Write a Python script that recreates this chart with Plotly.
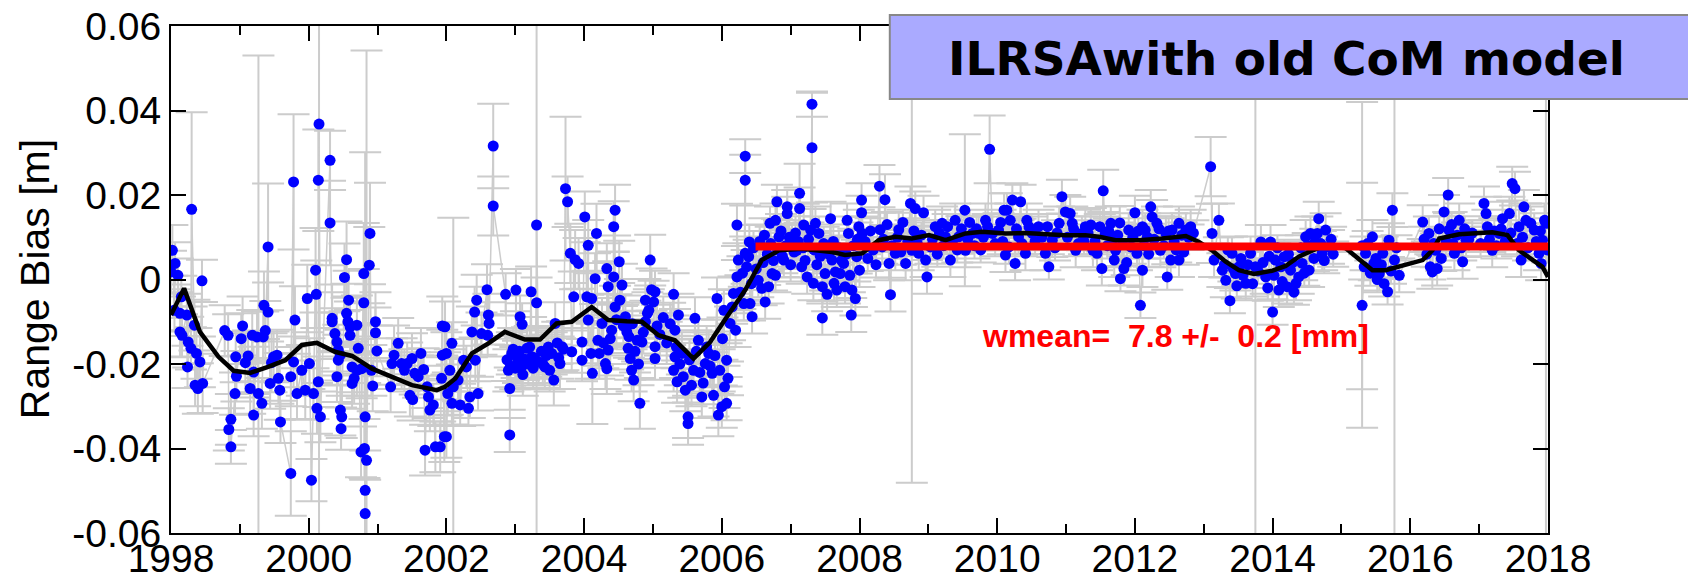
import plotly.graph_objects as go
import numpy as np

# (year, range bias [mm], sigma [mm])
seg_1998_2002 = [
(1998.02,6.9,6),(1998.06,3.8,5),(1998.00,1.8,5),(1998.10,1.0,4),(1998.15,-4.1,5),(1998.05,-7.3,5),(1998.13,-8.0,4),(1998.23,-8.4,5),(1998.13,-12.4,6),(1998.16,-13.2,5),(1998.25,-14.8,6),(1998.29,-16.3,5),(1998.37,-17.5,6),(1998.42,-19.5,6),(1998.24,-20.7,5),(1998.35,-25.0,5),(1998.39,-25.8,6),(1998.46,-24.6,7),(1998.45,-0.3,5),(1998.30,16.6,23),(1998.34,-10.8,6),
(1998.78,-12.1,6),(1998.83,-13.2,5),(1999.04,-11.0,7),(1999.02,-14.0,6),(1999.18,-13.2,6),(1999.25,-13.6,6),(1999.37,-12.1,7),(1999.34,-13.6,6),(1998.94,-18.3,6),(1999.08,-19.7,7),(1999.12,-18.1,6),(1999.20,-21.9,6),(1998.95,-22.9,6),(1998.93,-27.0,5),(1999.15,-25.8,6),(1999.27,-27.0,80),(1999.32,-29.3,6),(1999.20,-32.1,5),(1998.87,-33.1,6),(1998.84,-35.5,5),(1998.87,-39.6,4),(1999.41,7.7,15),(1999.35,-6.1,8),(1999.41,-7.7,7),(1999.49,-18.3,6),(1999.54,-17.9,6),(1999.46,-19.7,7),(1999.44,-24.6,6),(1999.56,-23.4,6),(1999.58,-26.2,7),(1999.59,-33.7,5),(1999.74,-45.9,10),(1999.78,23.1,16),(1999.80,-9.6,8),(1999.78,-19.5,6),(1999.74,-23.0,7),(1999.83,-27.0,6),(1999.90,-21.5,6),(1999.95,-26.2,7),(2000.01,-19.9,6),(2000.04,-47.5,5),(2000.07,-27.0,6),(2000.14,-24.2,6),(2000.12,-30.5,6),(2000.17,-32.5,6),(2000.10,2.2,10),(2000.11,-3.5,8),(1999.98,-4.5,8),(2000.14,23.5,12),(2000.15,36.8,100),(2000.31,28.2,7),(2000.31,13.4,10),(2000.34,-9.2,8),(2000.34,-10.0,7),(2000.38,-12.8,6),(2000.41,-14.8,7),(2000.43,-16.7,6),(2000.43,-19.1,6),(2000.46,-17.9,6),(2000.41,-23.0,6),(2000.46,-30.9,6),(2000.48,-32.5,5),(2000.47,-35.3,5),(2000.52,0.5,8),(2000.55,4.7,9),(2000.58,-4.9,7),(2000.55,-8.0,7),(2000.57,-10.0,6),(2000.60,-11.2,6),(2000.70,-10.8,7),(2000.60,-13.2,6),(2000.72,-16.3,6),(2000.63,-20.7,6),(2000.70,-21.5,6),(2000.66,-23.4,6),(2000.63,-24.6,6),(2000.77,-21.1,7),(2000.82,-32.5,8),(2000.76,-40.8,6),(2000.81,-40.0,7),(2000.84,-42.8,97),(2000.82,-49.9,80),(2000.82,-55.4,8),(2000.80,1.4,12),(2000.88,3.4,9),(2000.89,10.9,12),(2000.80,-5.5,8),(2000.97,-10.0,7),(2000.97,-12.6,6),(2000.99,-16.9,6),(2000.91,-21.5,6),(2000.93,-25.2,6),(2001.21,-19.9,6),(2001.19,-25.4,6),(2001.24,-17.9,7),(2001.30,-15.1,6),(2001.35,-19.9,6),(2001.39,-21.5,5),(2001.43,-19.9,5),(2001.50,-18.7,6),(2001.47,-27.4,5),(2001.51,-28.4,5),(2001.54,-22.2,5),(2001.59,-23.0,5),(2001.63,-17.5,6),(2001.67,-21.3,5),(2001.69,-40.4,6),(2001.72,-25.4,5),(2001.74,-27.8,5),(2001.76,-30.9,5),(2001.81,-29.7,5),(2001.84,-39.6,6),(2001.91,-39.6,6),(2001.94,-11.0,7),(2001.94,-17.9,6),(2001.93,-23.4,5),(2001.97,-37.2,6),
]

seg_2002_2006 = [
(2001.98,-11.2,6),(2002.08,-15.1,5),(2002.00,-17.5,5),(2002.05,-21.5,5),(2002.17,-23.8,5),(2002.10,-25.4,40),(2002.02,-27.0,5),(2002.08,-29.3,5),(2002.20,-29.7,5),(2002.32,-30.5,4),(2002.34,-27.8,5),(2002.46,-27.0,4),(2002.00,-37.2,5),(2002.25,-19.1,5),(2002.29,-20.7,5),(2002.42,-19.1,5),(2002.37,-12.4,6),(2002.41,-7.7,6),(2002.44,-4.9,6),(2002.51,-12.8,5),(2002.60,-13.2,5),(2002.61,-8.4,5),(2002.62,-10.4,5),(2002.59,-2.4,6),(2002.68,31.6,10),(2002.68,17.4,7),(2002.86,-3.5,5),(2003.01,-2.5,5),(2003.07,-8.8,5),(2003.10,-10.6,5),(2002.92,-25.8,5),(2002.92,-36.8,4),(2002.90,-21.5,5),(2002.95,-17.5,5),(2003.02,-18.3,5),(2003.09,-20.7,5),(2003.17,-16.3,5),(2003.23,-2.9,6),(2003.31,-5.5,6),(2003.31,12.9,80),(2003.24,-18.3,5),(2003.34,-19.5,5),(2003.43,-20.7,5),(2003.56,-23.8,6),(2003.53,-17.5,5),(2003.58,-10.4,5),(2003.65,-19.9,6),(2003.68,-15.9,6),(2003.73,21.5,17),(2003.76,18.4,6),(2003.80,6.2,7),(2003.87,4.7,7),(2003.92,3.8,6),(2003.85,-4.1,6),(2003.82,-17.1,5),(2003.97,-14.8,5),(2003.97,-19.1,5),(2004.01,14.8,6),(2004.04,-4.1,6),(2004.06,8.1,6),(2004.06,-9.6,6),(2004.11,-4.5,6),(2004.18,10.9,7),(2004.16,0.2,6),(2004.10,-17.5,6),(2004.12,-22.2,12),(2004.20,-14.4,6),(2004.26,-10.4,6),(2004.31,-19.9,6),(2004.33,-21.1,6),(2004.35,-16.7,6),(2004.38,-14.0,6),(2004.33,2.6,6),(2004.35,-1.7,6),(2004.43,0.6,6),(2004.45,16.4,6),(2004.43,12.5,6),(2004.51,4.2,5),(2004.55,-1.3,5),(2004.52,-4.9,5),(2004.45,-6.5,5),(2004.60,-8.8,5),(2004.62,-12.4,5),(2004.64,-16.3,5),(2004.67,-18.7,5),(2004.69,-21.5,5),(2004.72,-23.8,5),(2004.81,-29.3,6),(2004.77,-14.4,5),(2004.84,-14.8,5),(2004.89,-10.0,5),(2004.96,4.6,6),(2004.98,-2.4,5),(2005.01,-5.3,5),(2004.89,-4.9,5),(2005.03,-2.9,5),(2004.94,-7.3,5),(2005.03,-15.9,5),(2005.03,-18.7,5),(2005.30,-3.5,5),(2005.37,-8.4,5),(2005.32,-12.0,5),(2005.32,-18.3,5),(2005.30,-21.5,5),(2005.35,-24.2,5),(2005.47,-26.2,5),(2005.51,-32.5,5),(2005.51,-34.1,5),(2005.59,-21.5,5),(2005.61,-9.2,5),(2005.66,-14.4,5),(2005.71,-27.8,5),(2005.76,-19.9,5),(2005.81,-17.5,5),(2005.86,-22.2,5),(2005.88,-27.4,5),(2005.93,-4.5,5),(2005.95,-32.1,5),(2006.00,-30.1,5),(2006.04,-25.4,5),(2006.03,-7.3,5),
(2002.88,-19.0,5),(2002.93,-20.5,5),(2002.97,-16.5,5),(2003.00,-21.0,5),(2003.04,-19.5,5),(2003.06,-17.0,5),(2003.11,-22.5,5),(2003.13,-18.8,5),(2003.19,-20.0,5),(2003.21,-16.0,5),(2003.26,-21.0,5),(2003.28,-18.5,5),(2003.38,-17.0,5),(2003.40,-20.0,5),(2003.45,-18.0,5),(2003.48,-16.0,5),(2003.50,-21.5,5),(2003.61,-15.0,5),(2003.63,-18.5,5),(2003.70,-16.5,5),(2004.22,-17.5,6),(2004.28,-15.0,6),(2004.40,-12.0,6),(2004.47,-9.5,6),(2004.57,-11.0,5),(2004.65,-13.5,5),(2004.70,-10.5,5),(2004.74,-17.0,5),(2004.79,-20.0,5),(2004.86,-12.5,5),(2004.92,-8.0,5),(2005.06,-11.0,5),(2005.10,-13.0,5),(2005.15,-9.0,5),(2005.20,-15.0,5),(2005.25,-10.5,5),(2005.34,-16.0,5),(2005.39,-20.0,5),(2005.42,-17.5,5),(2005.44,-23.0,5),(2005.53,-19.0,5),(2005.56,-25.0,5),(2005.63,-17.0,5),(2005.68,-22.0,5),(2005.73,-24.5,5),(2005.78,-16.0,5),(2005.83,-20.5,5),(2005.90,-18.0,5),(2005.97,-21.5,5),(2006.01,-14.0,5),
]

seg_2006_2010 = [
(2006.07,-29.3,4),(2006.09,-23.4,4),(2006.07,-19.1,4),(2006.12,-10.4,4),(2006.20,-12.0,4),(2006.15,-6.5,4),(2006.17,-3.3,4),(2006.22,0.6,4),(2006.24,4.6,4),(2006.22,12.9,5),(2006.34,23.5,6),(2006.34,29.2,4),(2006.32,-5.7,4),(2006.41,-5.7,4),(2006.44,-8.8,4),(2006.39,5.4,4),(2006.34,6.2,4),(2006.40,8.9,4),(2006.53,-0.2,4),(2006.58,-2.1,4),(2006.63,-5.3,4),(2006.68,-1.7,4),(2006.73,1.4,4),(2006.78,1.0,4),(2006.70,13.3,4),(2006.80,18.4,4),(2006.78,14.0,4),(2006.83,10.1,4),(2006.90,4.6,4),(2006.95,17.2,4),(2006.95,15.6,4),(2007.02,8.9,4),(2007.09,6.9,4),(2007.13,20.4,7),(2007.13,16.8,5),(2007.19,12.9,5),(2007.16,3.0,4),(2007.24,0.6,4),(2007.31,41.5,3),(2007.31,31.2,13),(2007.29,11.7,5),(2007.36,13.3,4),(2007.41,10.9,4),(2007.33,-0.9,4),(2007.46,-1.7,4),(2007.50,1.4,4),(2007.58,14.4,4),(2007.60,4.6,4),(2007.65,1.8,4),(2007.63,-0.9,4),(2007.46,-9.1,4),(2007.72,1.4,4),(2007.77,3.8,4),(2007.79,-1.7,4),(2007.82,14.0,4),(2007.84,10.9,4),(2007.89,-2.5,4),(2007.94,-4.5,4),(2007.88,-8.4,4),(2007.96,5.4,4),(2007.99,12.5,4),(2008.03,18.8,4),(2008.03,15.8,4),(2008.04,10.9,4),(2008.00,2.2,4),(2008.29,22.1,5),(2008.37,18.9,6),(2008.30,11.8,4),(2008.33,7.7,4),(2008.43,3.8,4),(2008.45,-3.6,4),(2008.57,11.8,4),(2008.52,6.2,4),(2008.67,3.8,4),(2008.74,18.0,4),(2008.76,6.9,55),(2008.81,16.8,4),(2008.93,15.8,4),(2008.86,6.2,4),(2008.96,4.6,4),(2008.98,0.6,4),(2009.03,7.7,4),(2009.10,12.5,4),(2009.20,13.3,4),(2009.25,10.1,4),(2009.32,4.6,4),(2009.39,14.0,4),(2009.44,10.1,4),(2009.53,16.4,18),(2009.54,6.9,4),(2009.64,10.9,4),(2009.73,10.9,4),(2009.83,14.0,4),(2009.89,30.8,8),(2009.93,10.9,4),(2010.02,11.7,4),(2010.10,16.4,4),(2010.12,5.8,4),
(2006.27,-3.0,4),(2006.30,1.5,4),(2006.36,3.0,4),(2006.43,-1.0,4),(2006.46,7.5,4),(2006.50,2.5,4),(2006.55,9.0,4),(2006.60,4.0,4),(2006.62,10.5,4),(2006.66,6.0,4),(2006.71,8.5,4),(2006.75,4.5,4),(2006.81,7.0,4),(2006.86,11.5,4),(2006.88,5.5,4),(2006.93,8.0,4),(2006.98,10.0,4),(2007.00,3.5,4),(2007.05,6.5,4),(2007.07,11.0,4),(2007.11,9.0,4),(2007.18,7.5,4),(2007.21,4.5,4),(2007.26,9.5,4),(2007.34,7.0,4),(2007.38,3.5,4),(2007.43,5.5,4),(2007.48,8.5,4),(2007.53,-3.5,4),(2007.55,6.0,4),(2007.62,9.0,4),(2007.67,-2.5,4),(2007.70,7.5,4),(2007.74,4.5,4),(2007.81,6.0,4),(2007.86,1.0,4),(2007.91,8.0,4),(2007.97,9.5,4),
(2008.08,9.0,3),(2008.12,5.0,3),(2008.16,11.5,3),(2008.20,7.0,3),(2008.24,3.5,3),(2008.35,9.5,3),(2008.40,13.0,3),(2008.47,8.0,3),(2008.55,10.0,3),(2008.60,6.5,3),(2008.63,13.5,3),(2008.70,9.0,3),(2008.79,11.5,3),(2008.84,8.5,3),(2008.90,10.5,3),(2009.06,9.5,3),(2009.13,6.0,3),(2009.16,11.0,3),(2009.22,8.0,3),(2009.28,12.5,3),(2009.35,9.0,3),(2009.42,7.0,3),(2009.48,12.0,3),(2009.57,9.5,3),(2009.60,13.5,3),(2009.67,8.0,3),(2009.70,12.0,3),(2009.76,7.0,3),(2009.80,10.0,3),(2009.86,12.5,3),(2009.97,8.5,3),(2010.05,13.5,3),(2010.08,9.0,3),
]

seg_2010_2014 = [
(2010.14,16.4,4),(2010.22,18.8,4),(2010.34,18.4,4),(2010.19,14.0,4),(2010.17,7.7,4),(2010.26,3.8,4),(2010.31,10.1,4),(2010.41,6.2,4),(2010.43,14.0,4),(2010.51,10.9,4),(2010.60,12.5,4),(2010.70,6.2,4),(2010.75,3.0,3),(2010.80,9.3,4),(2010.90,13.3,4),(2010.94,19.6,4),(2010.99,16.0,4),(2011.06,15.6,4),(2011.09,13.3,4),(2011.14,6.9,4),(2011.23,10.9,4),(2011.28,12.5,4),(2011.36,12.9,4),(2011.39,6.9,4),(2011.45,6.2,4),(2011.52,2.6,4),(2011.54,21.0,5),(2011.57,10.9,4),(2011.65,13.3,4),(2011.70,4.6,4),(2011.72,6.9,4),(2011.78,13.4,4),(2011.79,0.2,3),(2011.84,2.6,4),(2011.91,11.7,4),(2011.94,7.7,4),(2012.00,15.8,4),(2012.03,6.2,4),(2012.08,-6.1,3),(2012.11,2.2,4),(2012.11,12.5,4),(2012.15,11.7,4),(2012.23,17.2,4),(2012.25,14.8,4),(2012.32,13.3,4),(2012.37,6.9,4),(2012.45,10.9,4),(2012.47,0.6,3),(2012.52,4.6,4),(2012.54,11.7,4),(2012.64,13.3,4),(2012.64,4.6,4),(2012.74,11.7,4),(2012.81,12.5,4),(2013.10,26.7,7),(2013.12,10.9,7),(2013.22,14.0,4),(2013.15,4.6,4),(2013.27,2.2,4),(2013.32,-0.2,4),(2013.38,-5.0,3),(2013.41,6.2,4),(2013.46,1.4,4),(2013.51,3.0,4),(2013.61,-0.9,4),(2013.68,6.2,4),(2013.75,3.0,70),(2013.83,8.9,4),(2013.90,0.6,4),(2013.97,8.9,4),(2014.00,-7.7,3),(2014.04,4.6,4),(2014.09,-2.5,4),(2014.17,5.4,4),
(2010.28,12.0,3),(2010.36,8.5,3),(2010.46,12.5,3),(2010.55,9.0,3),(2010.65,10.0,3),(2010.73,12.5,3),(2010.84,7.5,3),(2010.87,11.0,3),(2011.02,10.0,3),(2011.11,12.0,3),(2011.18,8.5,3),(2011.26,9.0,3),(2011.32,11.0,3),(2011.42,9.0,3),(2011.49,12.5,3),(2011.60,8.0,3),(2011.62,11.5,3),(2011.68,9.5,3),(2011.75,10.5,3),(2011.82,8.5,3),(2011.88,4.0,3),(2011.97,10.0,3),(2012.05,11.5,3),(2012.13,8.0,3),(2012.18,10.0,3),(2012.20,6.0,3),(2012.28,9.5,3),(2012.35,12.0,3),(2012.42,8.0,3),(2012.49,11.5,3),(2012.57,9.0,3),(2012.60,7.0,3),(2012.68,10.5,3),(2012.71,6.5,3),(2012.78,10.0,3),(2012.85,11.0,3),
(2013.30,3.5,3),(2013.35,7.0,3),(2013.43,2.5,3),(2013.48,-1.5,3),(2013.54,5.0,3),(2013.57,1.0,3),(2013.64,3.5,3),(2013.71,-1.0,3),(2013.79,2.0,3),(2013.86,4.0,3),(2013.93,-2.0,3),(2013.95,5.5,3),(2014.02,1.0,3),(2014.07,7.5,3),(2014.12,3.0,3),(2014.14,-0.5,3),
]

seg_2014_2018 = [
(2014.21,-1.7,4),(2014.26,2.2,4),(2014.34,-0.9,4),(2014.38,0.6,4),(2014.43,3.8,4),(2014.53,2.2,4),(2014.48,10.1,4),(2014.55,10.9,4),(2014.67,14.4,4),(2014.65,10.9,4),(2014.72,6.2,4),(2014.77,11.7,4),(2014.82,7.7,4),(2015.30,8.0,34),(2015.30,-6.1,29),(2015.35,6.2,4),(2015.45,10.1,4),(2015.47,3.8,4),(2015.55,1.4,4),(2015.60,6.2,4),(2015.67,-2.9,3),(2015.69,9.3,4),(2015.74,16.4,4),(2015.77,4.6,70),(2015.84,1.0,4),(2016.18,13.6,4),(2016.27,10.9,4),(2016.32,1.8,4),(2016.39,2.6,4),(2016.37,6.9,4),(2016.49,16.0,4),(2016.55,20.0,4),(2016.56,11.7,4),(2016.64,6.2,4),(2016.71,14.0,4),(2016.76,4.2,4),(2016.81,9.3,4),(2017.07,18.0,4),(2017.10,15.6,4),(2017.12,12.5,4),(2017.19,6.9,4),(2017.29,10.9,4),(2017.34,14.4,4),(2017.44,15.6,4),(2017.48,22.7,4),(2017.52,21.5,4),(2017.58,12.5,4),(2017.61,4.6,4),(2017.65,17.2,4),(2017.68,14.0,4),(2017.75,13.3,4),(2017.80,11.7,4),(2017.87,6.2,4),(2017.90,3.8,4),(2017.95,14.0,4),(2017.97,13.3,80),(2017.92,9.3,4),
(2014.23,6.0,3),(2014.29,4.0,3),(2014.31,-3.0,3),(2014.41,7.5,3),(2014.46,1.5,3),(2014.51,8.0,3),(2014.60,5.0,3),(2014.62,9.0,3),(2014.70,8.5,3),(2014.75,4.5,3),(2014.85,9.5,3),(2014.88,6.0,3),
(2015.33,3.0,3),(2015.38,8.5,3),(2015.42,1.5,3),(2015.50,5.0,3),(2015.52,0.0,3),(2015.58,3.5,3),(2015.62,-1.0,3),(2015.72,2.0,3),(2015.80,7.5,3),(2016.20,9.5,3),(2016.24,6.0,3),(2016.29,3.0,3),(2016.34,8.5,3),(2016.42,12.0,3),(2016.45,5.0,3),(2016.52,9.0,3),(2016.60,13.0,3),(2016.62,8.5,3),(2016.68,10.5,3),(2016.74,7.5,3),(2016.79,12.0,3),(2016.85,9.5,3),(2016.90,11.0,3),(2017.02,8.5,3),(2017.15,9.5,3),(2017.22,11.5,3),(2017.25,8.0,3),(2017.32,12.0,3),(2017.38,9.0,3),(2017.46,11.0,3),(2017.55,8.5,3),(2017.63,10.0,3),(2017.71,7.5,3),(2017.83,9.0,3),(2017.89,11.5,3),(2017.99,7.0,3),
]

# running mean (black curve)
smooth_years = [1998.0,1998.19,1998.42,1998.69,1998.91,1999.15,1999.41,1999.66,1999.90,2000.12,2000.38,2000.63,2000.92,2001.21,2001.50,2001.86,2001.98,2002.13,2002.37,2002.61,2002.85,2003.14,2003.36,2003.60,2003.82,2004.11,2004.35,2004.62,2004.84,2005.08,2005.32,2005.59,2005.83,2006.05,2006.34,2006.58,2006.83,2007.16,2007.41,2007.60,2007.79,2008.04,2008.28,2008.52,2008.76,2009.01,2009.25,2009.54,2009.78,2010.12,2010.41,2010.70,2010.99,2011.28,2011.48,2011.72,2012.06,2012.40,2012.74,2012.93,2013.12,2013.32,2013.51,2013.73,2014.00,2014.19,2014.38,2014.58,2014.77,2015.01,2015.26,2015.45,2015.64,2015.89,2016.18,2016.32,2016.42,2016.71,2017.00,2017.19,2017.41,2017.58,2017.78,2017.92,2018.0]
smooth_mm = [-8.4,-2.1,-12.4,-18.3,-21.6,-22.1,-20.7,-19.1,-15.5,-15.0,-17.1,-18.1,-21.1,-23.0,-25.0,-26.2,-25.4,-23.4,-17.5,-15.1,-12.4,-14.2,-14.2,-10.4,-10.0,-6.5,-9.6,-9.9,-10.0,-13.2,-14.4,-18.7,-14.8,-9.4,-2.5,4.6,6.9,7.3,6.9,6.5,5.8,6.2,9.3,10.1,9.7,10.5,9.3,10.9,11.3,10.9,11.0,10.7,10.5,10.5,10.1,9.3,9.3,9.7,10.3,8.9,6.9,4.2,2.2,1.3,2.1,3.2,5.4,6.9,8.1,8.1,4.6,2.2,2.2,3.2,4.6,6.9,9.7,10.7,10.9,11.2,10.5,6.9,4.6,3.0,0.6]

# weighted mean (red line)
wmean_mm = 7.8
wmean_err_mm = 0.2
wmean_span = [2006.49, 2018.0]

title_text = "ILRSAwith old CoM model"
y_label = "Range Bias [m]"
x_ticks = [1998, 2000, 2002, 2004, 2006, 2008, 2010, 2012, 2014, 2016, 2018]
y_ticks = [-0.06, -0.04, -0.02, 0, 0.02, 0.04, 0.06]
y_ticktext = ["-0.06", "-0.04", "-0.02", "0", "0.02", "0.04", "0.06"]

pts = np.array(seg_1998_2002 + seg_2002_2006 + seg_2006_2010 + seg_2010_2014 + seg_2014_2018)
order = np.argsort(pts[:, 0], kind="stable")
pts = pts[order]
t = pts[:, 0]
bias = pts[:, 1] / 1000.0
sig = pts[:, 2] / 1000.0

FONT = "Liberation Sans, Arial, Helvetica, sans-serif"

fig = go.Figure()
fig.add_trace(go.Scatter(
    x=t, y=bias, mode="lines+markers",
    line=dict(color="#CCCCCC", width=1.5),
    marker=dict(color="#0000FF", size=11, line=dict(width=0)),
    error_y=dict(type="data", array=sig, visible=True, color="#CCCCCC", thickness=2, width=16),
    showlegend=False,
))
fig.add_trace(go.Scatter(
    x=smooth_years, y=[v / 1000.0 for v in smooth_mm], mode="lines",
    line=dict(color="black", width=4.5), showlegend=False,
))
fig.add_trace(go.Scatter(
    x=wmean_span, y=[wmean_mm / 1000.0] * 2, mode="lines",
    line=dict(color="#FF0000", width=8), showlegend=False,
))

fig.add_annotation(
    x=2012.59, y=-0.0133, xref="x", yref="y", showarrow=False,
    text=f"wmean=  {wmean_mm} +/-  {wmean_err_mm} [mm]",
    font=dict(family=FONT, size=32, color="#FF0000", weight="bold"),
    xanchor="center", yanchor="middle",
)

# title box
fig.add_shape(type="rect", xref="paper", yref="paper",
              x0=0.522, x1=1.2, y0=0.856, y1=1.0217,
              fillcolor="#AAAAFF", line=dict(color="#888888", width=2), layer="above")
fig.add_annotation(
    x=0.81, y=0.935, xref="paper", yref="paper", showarrow=False,
    text=title_text,
    font=dict(family="DejaVu Sans, Verdana, sans-serif", size=47, color="black", weight="bold"),
    xanchor="center", yanchor="middle",
)

fig.add_annotation(
    x=-0.099, y=0.5, xref="paper", yref="paper", showarrow=False,
    text=y_label, textangle=-90,
    font=dict(family=FONT, size=41, color="black"),
    xanchor="center", yanchor="middle",
)

fig.update_xaxes(
    range=[1998, 2018], tickvals=x_ticks, ticktext=[str(v) for v in x_ticks],
    ticks="inside", ticklen=15, tickwidth=2, tickcolor="black",
    showline=True, linecolor="black", linewidth=2, mirror="ticks",
    showgrid=False, zeroline=False, automargin=False,
    ticklabeloverflow="allow", ticklabelstandoff=-10,
    tickfont=dict(family=FONT, size=39, color="black"),
    minor=dict(dtick=1, tick0=1998, ticks="inside", ticklen=9, tickwidth=2, tickcolor="black", showgrid=False),
)
fig.update_yaxes(
    range=[-0.06, 0.06], tickvals=y_ticks, ticktext=y_ticktext,
    ticks="inside", ticklen=15, tickwidth=2, tickcolor="black",
    showline=True, linecolor="black", linewidth=2, mirror="ticks",
    showgrid=False, zeroline=False, automargin=False,
    ticklabeloverflow="allow",
    tickfont=dict(family=FONT, size=39, color="black"),
)
# the page body adds an 8px margin, so the figure is 8px smaller and shifted accordingly
fig.update_layout(
    width=1688, height=569,
    margin=dict(l=163, r=148, t=18, b=44, pad=0),
    paper_bgcolor="white", plot_bgcolor="white",
    showlegend=False,
)
fig.write_html("out.html")
